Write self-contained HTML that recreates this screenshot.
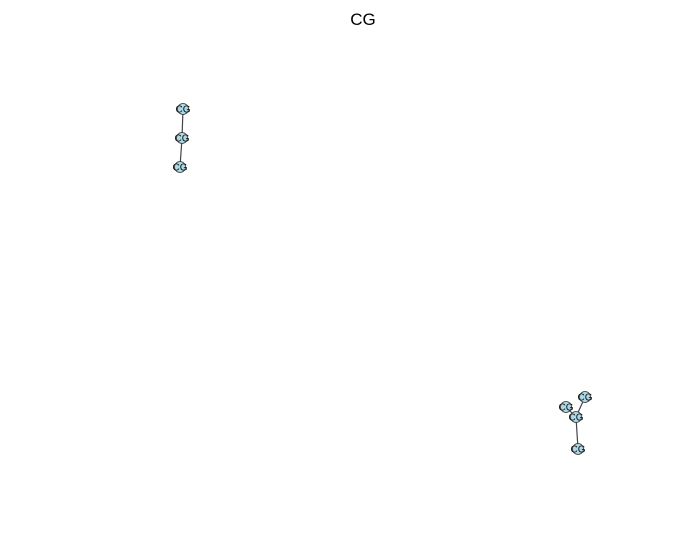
<!DOCTYPE html>
<html><head><meta charset="utf-8"><style>body{margin:0;background:#fff}svg{display:block}</style></head>
<body>
<svg width="694" height="545" font-family="Liberation Sans, sans-serif">
<text x="363" y="25" text-anchor="middle" font-size="17">CG</text>
<g id="edges"></g>
<g id="nodes"></g>
</svg>
<script>
const nodeLabels = ["CG","CG","CG","CG","CG","CG","CG"];
const nodeX = [183,182,180,585,566,576,578];
const nodeY = [109,138,167,397,407,417,449];
const edgeFrom = [0,1,5,5,5];
const edgeTo = [1,2,3,4,6];
const NS="http://www.w3.org/2000/svg";
const eg=document.getElementById('edges'), ng=document.getElementById('nodes');
edgeFrom.forEach((a,i)=>{const b=edgeTo[i];const l=document.createElementNS(NS,'line');
l.setAttribute('x1',nodeX[a]);l.setAttribute('y1',nodeY[a]);l.setAttribute('x2',nodeX[b]);l.setAttribute('y2',nodeY[b]);
l.setAttribute('stroke','#444');l.setAttribute('stroke-width','1.2');


eg.appendChild(l);});
nodeX.forEach((x,i)=>{const g=document.createElementNS(NS,'g');


const c=document.createElementNS(NS,'circle');c.setAttribute('cx',x);c.setAttribute('cy',nodeY[i]);c.setAttribute('r',5.5);
c.setAttribute('fill','#add8e6');c.setAttribute('stroke','#333');c.setAttribute('stroke-width','0.8');g.appendChild(c);
const t=document.createElementNS(NS,'text');t.setAttribute('x',x);t.setAttribute('y',nodeY[i]+3.5);t.setAttribute('text-anchor','middle');
t.setAttribute('font-size','10');t.setAttribute('fill','#111');t.textContent=nodeLabels[i];g.appendChild(t);ng.appendChild(g);});
</script>
</body></html>
